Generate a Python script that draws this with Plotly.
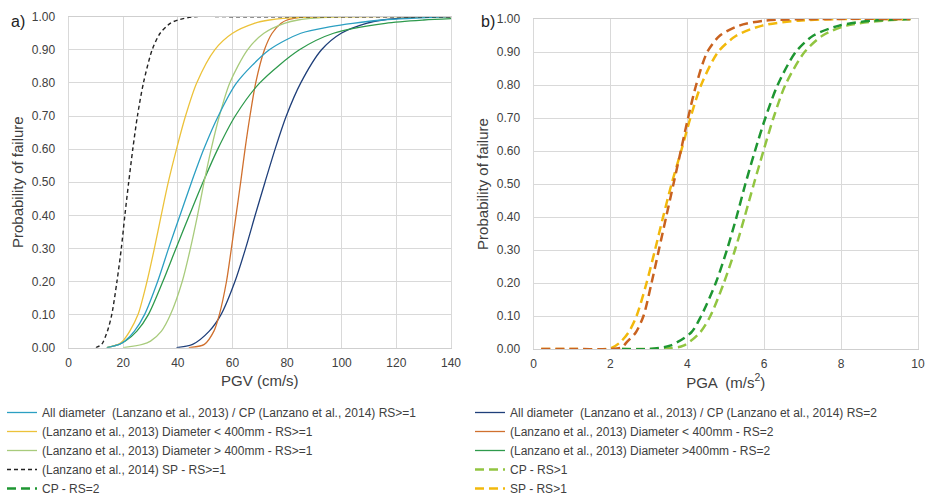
import plotly.graph_objects as go

# ---------------- Panel a) PGV (cm/s) ----------------
pgv_all_rs1_x = [14, 18.6, 20.6, 24.1, 27.8, 32.6, 36.6, 40.8, 45.0, 49.5, 54.8, 61.5, 73.5, 85, 96, 104, 115, 140]
pgv_all_rs1_y = [0, 0.01, 0.02, 0.05, 0.1, 0.2, 0.3, 0.4, 0.5, 0.6, 0.7, 0.8, 0.9, 0.95, 0.97, 0.98, 0.99, 1.0]

pgv_small_rs1_x = [14, 18.2, 19.8, 22.4, 25.4, 28.7, 31.4, 33.9, 36.5, 39.5, 42.8, 46.9, 53.5, 60.0, 68.0, 73.5, 85, 140]
pgv_small_rs1_y = [0, 0.01, 0.02, 0.05, 0.1, 0.2, 0.3, 0.4, 0.5, 0.6, 0.7, 0.8, 0.9, 0.95, 0.98, 0.99, 0.998, 1.0]

pgv_large_rs1_x = [20, 27, 30, 34, 37.3, 41.6, 44.6, 47.2, 49.6, 52.2, 55.2, 59.0, 65.5, 71.5, 79, 84, 100, 140]
pgv_large_rs1_y = [0, 0.01, 0.02, 0.05, 0.1, 0.2, 0.3, 0.4, 0.5, 0.6, 0.7, 0.8, 0.9, 0.95, 0.98, 0.99, 1.0, 1.0]

pgv_sp_rs1_x = [10.0, 12.1, 14.2, 15.8, 17.7, 19.3, 20.6, 22.0, 23.5, 25.2, 27.4, 30.6, 33.5, 37.2, 40.0, 46, 60, 140]
pgv_sp_rs1_y = [0, 0.01, 0.05, 0.1, 0.2, 0.3, 0.4, 0.5, 0.6, 0.7, 0.8, 0.9, 0.95, 0.98, 0.99, 1.0, 1.0, 1.0]

pgv_all_rs2_x = [39.5, 45.4, 51.5, 55.8, 60.9, 64.8, 68.3, 71.9, 75.6, 79.7, 85.0, 92.6, 99.8, 109, 115, 126, 140]
pgv_all_rs2_y = [0, 0.01, 0.05, 0.1, 0.2, 0.3, 0.4, 0.5, 0.6, 0.7, 0.8, 0.9, 0.95, 0.98, 0.99, 0.998, 1.0]

pgv_small_rs2_x = [44, 49.7, 53.2, 55.2, 57.8, 59.6, 61.3, 63.0, 64.6, 66.4, 68.5, 71.7, 74.5, 77.8, 80, 86, 140]
pgv_small_rs2_y = [0, 0.01, 0.05, 0.1, 0.2, 0.3, 0.4, 0.5, 0.6, 0.7, 0.8, 0.9, 0.95, 0.98, 0.99, 0.999, 1.0]

pgv_large_rs2_x = [14, 18.5, 20.8, 25.0, 29.2, 34.5, 39.3, 44.2, 49.2, 54.6, 61.0, 70.0, 84.5, 97, 116, 130, 140]
pgv_large_rs2_y = [0, 0.01, 0.02, 0.05, 0.1, 0.2, 0.3, 0.4, 0.5, 0.6, 0.7, 0.8, 0.9, 0.95, 0.98, 0.99, 0.994]

# ---------------- Panel b) PGA (m/s2) ----------------
pga_sp_rs2_x = [0.2, 1.0, 2.0, 2.3, 2.42, 2.66, 2.86, 3.07, 3.26, 3.45, 3.64, 3.83, 4.02, 4.23, 4.52, 4.85, 5.35, 6.0, 7.5, 9.8]
pga_sp_rs2_y = [0, 0, 0, 0.005, 0.02, 0.05, 0.1, 0.2, 0.3, 0.4, 0.5, 0.6, 0.7, 0.8, 0.9, 0.95, 0.98, 0.995, 1.0, 1.0]

pga_sp_rs1_x = [0.2, 1.0, 2.0, 2.25, 2.47, 2.68, 2.94, 3.16, 3.37, 3.59, 3.84, 4.08, 4.36, 4.8, 5.28, 5.95, 6.9, 8.0, 9.8]
pga_sp_rs1_y = [0, 0, 0.002, 0.02, 0.05, 0.1, 0.2, 0.3, 0.4, 0.5, 0.6, 0.7, 0.8, 0.9, 0.95, 0.98, 0.995, 1.0, 1.0]

pga_cp_rs2_x = [2.3, 3.0, 3.55, 4.1, 4.36, 4.74, 5.03, 5.28, 5.51, 5.76, 6.03, 6.35, 6.82, 7.28, 7.95, 8.8, 9.8]
pga_cp_rs2_y = [0, 0, 0.01, 0.05, 0.1, 0.2, 0.3, 0.4, 0.5, 0.6, 0.7, 0.8, 0.9, 0.95, 0.98, 0.995, 1.0]

pga_cp_rs1_x = [2.3, 3.0, 3.5, 3.9, 4.33, 4.6, 4.95, 5.24, 5.49, 5.73, 5.98, 6.24, 6.55, 7.05, 7.52, 8.14, 9.1, 9.8]
pga_cp_rs1_y = [0, 0, 0.002, 0.01, 0.05, 0.1, 0.2, 0.3, 0.4, 0.5, 0.6, 0.7, 0.8, 0.9, 0.95, 0.98, 0.995, 1.0]

pgv_ticks = [0, 20, 40, 60, 80, 100, 120, 140]
pga_ticks = [0, 2, 4, 6, 8, 10]
prob_ticks = [0.0, 0.1, 0.2, 0.3, 0.4, 0.5, 0.6, 0.7, 0.8, 0.9, 1.0]

names = {
    "all1": "All diameter  (Lanzano et al., 2013) / CP (Lanzano et al., 2014) RS>=1",
    "small1": "(Lanzano et al., 2013) Diameter < 400mm - RS>=1",
    "large1": "(Lanzano et al., 2013) Diameter > 400mm - RS>=1",
    "sp1": "(Lanzano et al., 2014) SP - RS>=1",
    "cp2": "CP - RS=2",
    "all2": "All diameter  (Lanzano et al., 2013) / CP (Lanzano et al., 2014) RS=2",
    "small2": "(Lanzano et al., 2013) Diameter < 400mm - RS=2",
    "large2": "(Lanzano et al., 2013) Diameter >400mm - RS=2",
    "cpgt1": "CP - RS>1",
    "spgt1": "SP - RS>1",
}

fig = go.Figure()

def add(x, y, name, color, width, dash, axis, legend, rank, show=True):
    fig.add_trace(go.Scatter(
        x=x, y=y, name=name, mode="lines",
        line=dict(color=color, width=width, dash=dash, shape="spline", smoothing=0.8),
        xaxis="x" if axis == 1 else "x2", yaxis="y" if axis == 1 else "y2",
        legend=legend, legendrank=rank, showlegend=show, hoverinfo="x+y+name"))

# panel a
add(pgv_all_rs2_x, pgv_all_rs2_y, names["all2"], "#1f3f7a", 1.3, "solid", 1, "legend2", 1)
add(pgv_small_rs2_x, pgv_small_rs2_y, names["small2"], "#d0702e", 1.3, "solid", 1, "legend2", 2)
add(pgv_large_rs2_x, pgv_large_rs2_y, names["large2"], "#2e9a4c", 1.3, "solid", 1, "legend2", 3)
add(pgv_large_rs1_x, pgv_large_rs1_y, names["large1"], "#a8cb7c", 1.3, "solid", 1, "legend", 3)
add(pgv_small_rs1_x, pgv_small_rs1_y, names["small1"], "#ecc23a", 1.3, "solid", 1, "legend", 2)
add(pgv_all_rs1_x, pgv_all_rs1_y, names["all1"], "#2b9fc2", 1.3, "solid", 1, "legend", 1)
add(pgv_sp_rs1_x, pgv_sp_rs1_y, names["sp1"], "#222222", 1.4, "4px,3px", 1, "legend", 4)

# panel b
add(pga_cp_rs1_x, pga_cp_rs1_y, names["cpgt1"], "#92c541", 2.5, "9px,5px", 2, "legend2", 4)
add(pga_cp_rs2_x, pga_cp_rs2_y, names["cp2"], "#1e9632", 2.5, "9px,5px", 2, "legend", 5)
add(pga_sp_rs1_x, pga_sp_rs1_y, names["spgt1"], "#f2b90c", 2.5, "9px,5px", 2, "legend2", 5)
add(pga_sp_rs2_x, pga_sp_rs2_y, "SP - RS=2", "#c9621f", 2.5, "9px,5px", 2, "legend2", 6, show=False)

H = 495
W = 934
txt = "#404040"
grid = "#d9d9d9"
font_family = "Liberation Sans, Arial, sans-serif"

common_x = dict(showgrid=True, gridcolor=grid, gridwidth=1, zeroline=False,
                showline=True, linecolor="#cfcfcf", mirror=True,
                ticks="outside", ticklen=4, tickcolor="rgba(0,0,0,0)",
                tickfont=dict(size=12, color=txt),
                title_font=dict(size=15, color=txt), automargin=False, fixedrange=True)
common_y = dict(showgrid=True, gridcolor=grid, gridwidth=1, zeroline=False,
                showline=True, linecolor="#d9d9d9", mirror=True, ticks="",
                tickvals=prob_ticks, tickformat=".2f", range=[0, 1.0],
                tickfont=dict(size=12, color=txt), ticklabelstandoff=10,
                title_font=dict(size=15, color=txt), automargin=False, fixedrange=True)

fig.update_layout(
    width=W, height=H,
    margin=dict(l=0, r=0, t=0, b=0, autoexpand=False),
    paper_bgcolor="white", plot_bgcolor="white",
    font=dict(family=font_family, size=12, color=txt),
    xaxis=dict(common_x, domain=[68.6 / W, 451 / W], range=[0, 140], tickvals=pgv_ticks,
               title=dict(text="PGV (cm/s)", standoff=6)),
    yaxis=dict(common_y, domain=[(H - 347.7) / H, (H - 16.7) / H], anchor="x",
               title=dict(text="Probability of failure", standoff=4)),
    xaxis2=dict(common_x, domain=[533.5 / W, 918 / W], range=[0, 10], tickvals=pga_ticks,
                anchor="y2", title=dict(text="PGA  (m/s<sup>2</sup>)", standoff=6)),
    yaxis2=dict(common_y, domain=[(H - 349) / H, (H - 19) / H], anchor="x2",
                title=dict(text="Probability of failure", standoff=4)),
    legend=dict(x=2 / W, y=(H - 398) / H, xanchor="left", yanchor="top",
                font=dict(size=12, color=txt), bgcolor="rgba(0,0,0,0)",
                tracegroupgap=0, itemwidth=30, traceorder="normal"),
    legend2=dict(x=470 / W, y=(H - 398) / H, xanchor="left", yanchor="top",
                 font=dict(size=12, color=txt), bgcolor="rgba(0,0,0,0)",
                 tracegroupgap=0, itemwidth=30, traceorder="normal"),
    annotations=[
        dict(text="a)", x=17.5 / W, y=(H - 21) / H, xref="paper", yref="paper",
             xanchor="center", yanchor="middle",
             showarrow=False, font=dict(size=16, color="#222222")),
        dict(text="b)", x=487.5 / W, y=(H - 22) / H, xref="paper", yref="paper",
             xanchor="center", yanchor="middle",
             showarrow=False, font=dict(size=16, color="#222222")),
    ],
)

fig.write_html("out.html", config={"displayModeBar": False},
               post_script="document.body.style.margin='0px';")
